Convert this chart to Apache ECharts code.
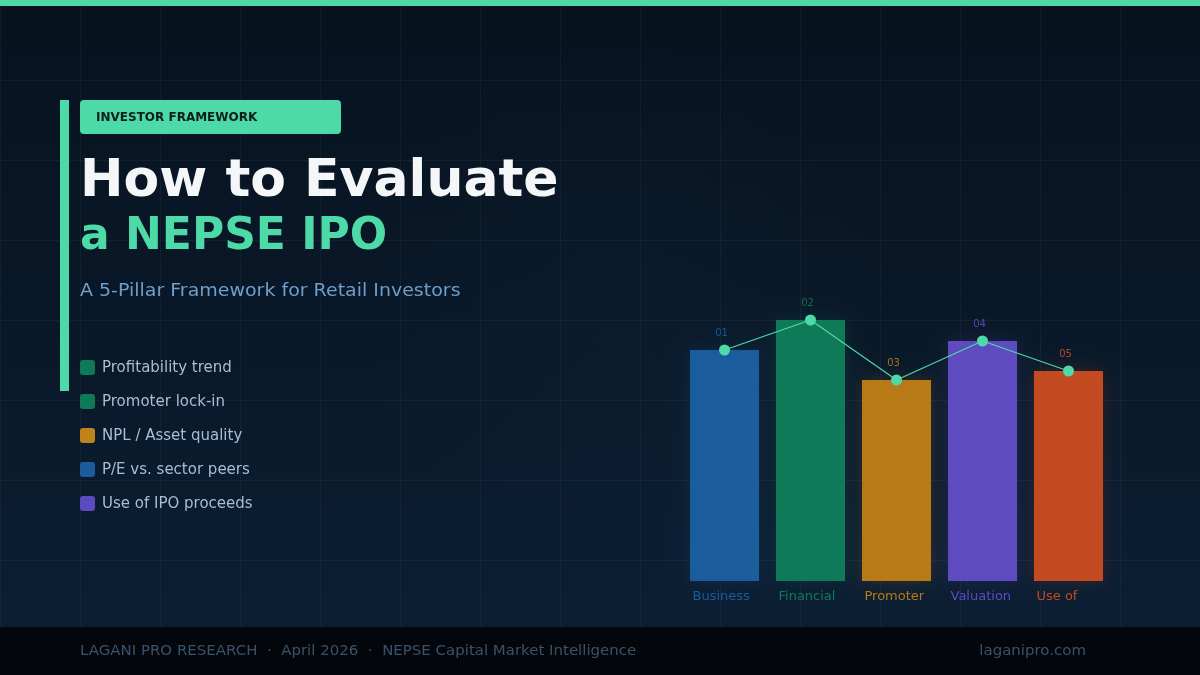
<!DOCTYPE html>
<html>
<head>
<meta charset="utf-8">
<script src="https://cdn.jsdelivr.net/npm/echarts@6/dist/echarts.min.js"></script>
<style>
  html, body { margin: 0; padding: 0; background: #08131f; }
  #chart { width: 1200px; height: 675px; }
</style>
</head>
<body>
<div id="chart"></div>
<script>
// ---- data ----
const categories = ['Business', 'Financial', 'Promoter', 'Valuation', 'Use of'];
const scores = [77, 87, 67, 80, 70];
const pillarNumbers = ['01', '02', '03', '04', '05'];
const barColors = ['#1b5c9c', '#0f7a57', '#b87a16', '#5e4bc0', '#c44a22'];
const checklistItems = ['Profitability trend', 'Promoter lock-in', 'NPL / Asset quality', 'P/E vs. sector peers', 'Use of IPO proceeds'];
const checklistColors = ['#0f7a57', '#0f7a57', '#c1821a', '#1b5c9c', '#5e4ac0'];
const tagText = 'INVESTOR FRAMEWORK';
const titleLine1 = 'How to Evaluate';
const titleLine2 = 'a NEPSE IPO';
const subtitle = 'A 5-Pillar Framework for Retail Investors';
const footerLeft = 'LAGANI PRO RESEARCH  ·  April 2026  ·  NEPSE Capital Market Intelligence';
const footerRight = 'laganipro.com';

const FONT = 'DejaVu Sans';
const TEAL = '#4dd9a8';

function hexA(hex, a) {
  const n = parseInt(hex.slice(1), 16);
  return `rgba(${(n >> 16) & 255},${(n >> 8) & 255},${n & 255},${a})`;
}

const chart = echarts.init(document.getElementById('chart'), null, { renderer: 'canvas' });

const graphics = [];
// background
graphics.push({
  type: 'rect', silent: true, z: -100,
  shape: { x: 0, y: 0, width: 1200, height: 675 },
  style: { fill: new echarts.graphic.LinearGradient(0, 0, 0, 1, [
    { offset: 0, color: '#07121e' }, { offset: 0.93, color: '#0b1e33' }, { offset: 1, color: '#0b1e33' }
  ]) }
});
graphics.push({
  type: 'circle', silent: true, z: -99,
  shape: { cx: 620, cy: 300, r: 260 },
  style: { fill: new echarts.graphic.RadialGradient(0.5, 0.5, 0.5, [
    { offset: 0, color: 'rgba(20,45,70,0.15)' }, { offset: 1, color: 'rgba(20,45,70,0)' }
  ]) }
});
// grid lines
for (let x = 0; x <= 1200; x += 80) {
  graphics.push({ type: 'line', silent: true, z: -90,
    shape: { x1: x + 0.5, y1: 0, x2: x + 0.5, y2: 627 },
    style: { stroke: 'rgba(255,255,255,0.045)', lineWidth: 1 } });
}
for (let y = 80; y < 627; y += 80) {
  graphics.push({ type: 'line', silent: true, z: -90,
    shape: { x1: 0, y1: y + 0.5, x2: 1200, y2: y + 0.5 },
    style: { stroke: 'rgba(255,255,255,0.045)', lineWidth: 1 } });
}
// top bar
graphics.push({ type: 'rect', silent: true, z: 10, shape: { x: 0, y: 0, width: 1200, height: 6 }, style: { fill: TEAL } });
// left accent
graphics.push({ type: 'rect', silent: true, z: 10, shape: { x: 60, y: 100, width: 9, height: 291 }, style: { fill: TEAL } });
// tag
graphics.push({ type: 'rect', silent: true, z: 10, shape: { x: 80, y: 100, width: 261, height: 34, r: 4 }, style: { fill: TEAL } });
graphics.push({ type: 'text', silent: true, z: 11, x: 96, y: 118,
  style: { text: tagText, fill: '#0a1f1a', font: `bold 12px "${FONT}"`, verticalAlign: 'middle', align: 'left' } });
// titles
graphics.push({ type: 'text', silent: true, z: 11, x: 80, y: 182,
  style: { text: titleLine1, fill: '#f4f6f8', font: `bold 52px "${FONT}"`, verticalAlign: 'middle', align: 'left' } });
graphics.push({ type: 'text', silent: true, z: 11, x: 80, y: 238,
  style: { text: titleLine2, fill: TEAL, font: `bold 44px "${FONT}"`, verticalAlign: 'middle', align: 'left' } });
graphics.push({ type: 'text', silent: true, z: 11, x: 80, y: 291, scaleX: 1.055,
  style: { text: subtitle, fill: '#6e9ec9', font: `18px "${FONT}"`, verticalAlign: 'middle', align: 'left' } });
// checklist
checklistItems.forEach((t, i) => {
  const y = 360 + i * 34;
  graphics.push({ type: 'rect', silent: true, z: 11, shape: { x: 80, y: y, width: 15, height: 15, r: 3 }, style: { fill: checklistColors[i] } });
  graphics.push({ type: 'text', silent: true, z: 11, x: 102, y: y + 8.5,
    style: { text: t, fill: '#a7bed3', font: `15px "${FONT}"`, verticalAlign: 'middle', align: 'left' } });
});
// footer
graphics.push({ type: 'rect', silent: true, z: 10, shape: { x: 0, y: 627, width: 1200, height: 48 }, style: { fill: '#03070c' } });
graphics.push({ type: 'text', silent: true, z: 11, x: 80, y: 651, scaleX: 1.07,
  style: { text: footerLeft, fill: '#3a5169', font: `14px "${FONT}"`, verticalAlign: 'middle', align: 'left' } });
graphics.push({ type: 'text', silent: true, z: 11, x: 1086, y: 651, scaleX: 1.07,
  style: { text: footerRight, fill: '#3a5169', font: `14px "${FONT}"`, verticalAlign: 'middle', align: 'right' } });

const rich = {};
barColors.forEach((c, i) => { rich['c' + i] = { color: c, width: 64, align: 'left', fontSize: 13, fontFamily: FONT }; });

const option = {
  animation: false,
  backgroundColor: '#07121e',
  textStyle: { fontFamily: FONT },
  graphic: { elements: graphics },
  grid: { left: 681.5, right: 88.5, top: 281, bottom: 94, containLabel: false },
  xAxis: {
    type: 'category',
    data: categories,
    axisLine: { show: false },
    axisTick: { show: false },
    splitLine: { show: false },
    axisLabel: {
      margin: 9,
      interval: 0,
      formatter: (v, i) => `{c${i}|${v}}`,
      rich: rich
    }
  },
  yAxis: {
    type: 'value', min: 0, max: 100,
    show: false,
    splitLine: { show: false }
  },
  series: [
    {
      type: 'bar',
      barWidth: 69,
      z: 2,
      data: scores.map((v, i) => ({
        value: v,
        itemStyle: { color: barColors[i], shadowColor: hexA(barColors[i], 0.22), shadowBlur: 16 },
        label: { color: hexA(barColors[i], 0.9) }
      })),
      label: {
        show: true,
        position: 'top',
        distance: 12,
        offset: [-3, 0],
        fontSize: 10,
        fontFamily: FONT,
        formatter: p => pillarNumbers[p.dataIndex]
      }
    },
    {
      type: 'line',
      z: 3,
      data: scores,
      symbol: 'circle',
      symbolSize: 11,
      itemStyle: { color: TEAL },
      lineStyle: { color: TEAL, width: 1.2 }
    }
  ]
};
chart.setOption(option);
</script>
</body>
</html>
